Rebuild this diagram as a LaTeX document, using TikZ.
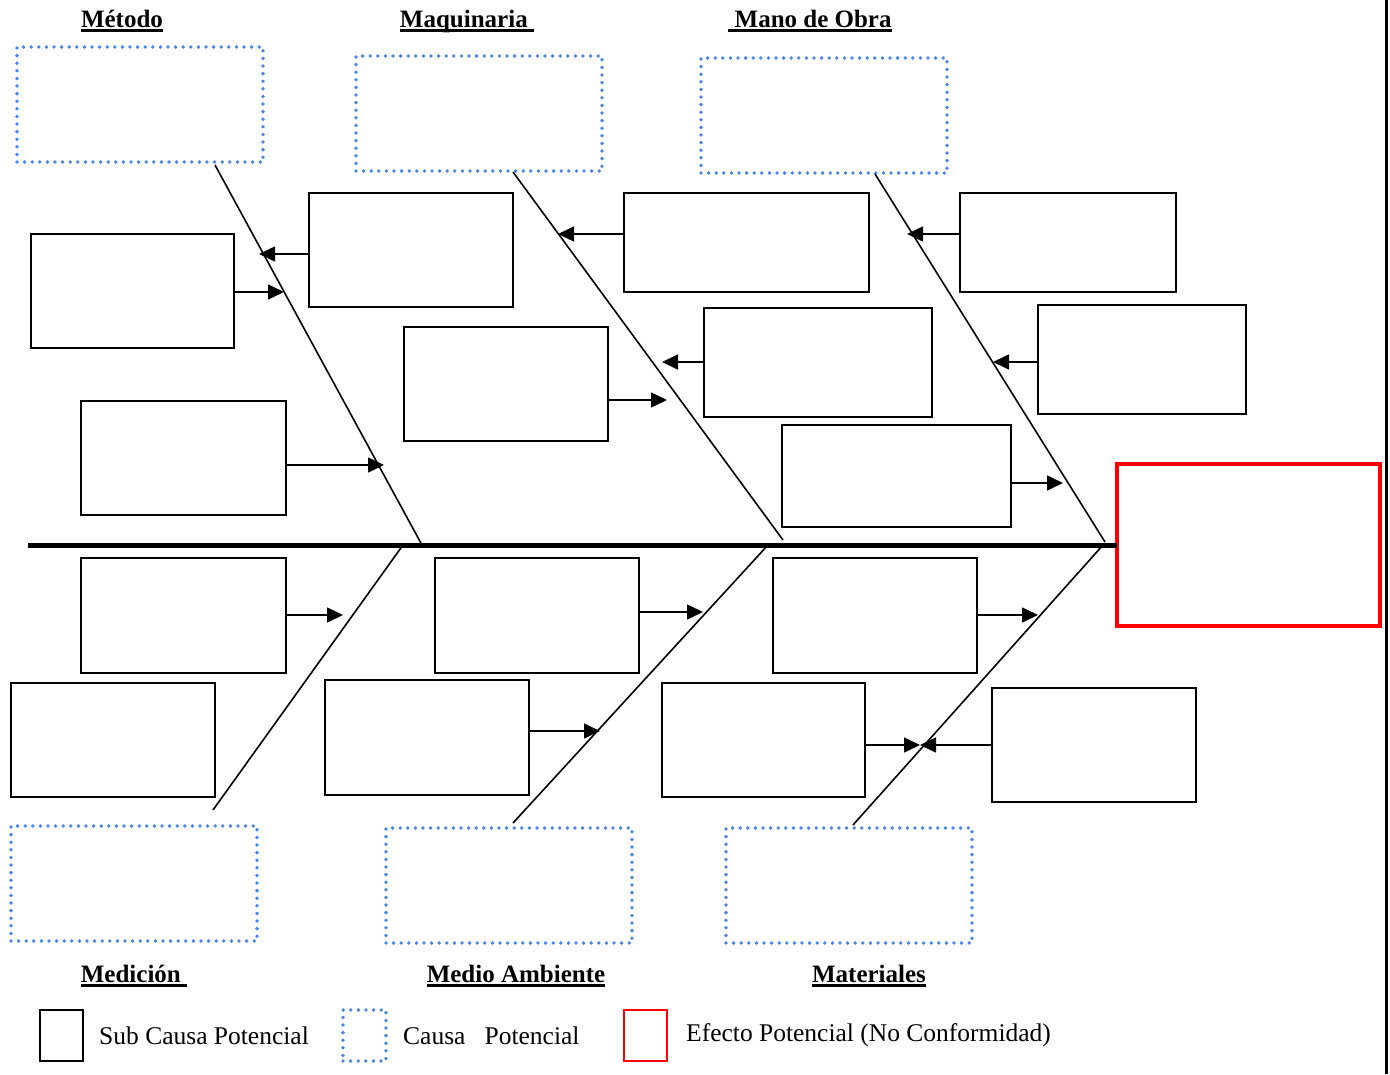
\documentclass[tikz,border=0pt]{standalone}
\usepackage{fontspec}
\setmainfont{Liberation Serif}
\usepackage{xcolor}
\usetikzlibrary{arrows.meta, positioning}

\definecolor{puntos}{RGB}{74,134,232}
\newcommand{\subr}[1]{\setbox0\hbox{#1}\rlap{\rule[-4.5pt]{\wd0}{2.6pt}}\box0}

\tikzset{
  subcausa/.style={draw=black, line width=1.6pt, inner sep=0pt, outer sep=0pt, anchor=north west},
  causa/.style={draw=puntos, line width=3.8pt, line cap=round, dash pattern=on 0pt off 7.6pt, inner sep=0pt, outer sep=0pt, anchor=north west, minimum width=246, minimum height=115},
  efecto/.style={draw=red, line width=4pt, inner sep=0pt, outer sep=0pt, anchor=north west},
  titulo/.style={font=\fontsize{25}{29}\selectfont\bfseries, inner sep=0pt},
  leyenda/.style={font=\fontsize{25.5}{29}\selectfont, inner sep=0pt, anchor=west},
  espina/.style={line width=1.6pt},
  flecha/.style={line width=1.6pt, -{Triangle[length=16pt, width=15pt]}}
}

\begin{document}
\begin{tikzpicture}[x=1pt, y=-1pt]
\useasboundingbox (0,0) rectangle (1390,1074);
\draw[line width=3pt] (1386,0) -- (1386,1074);

% Causas (titulos y cajas punteadas)
\node[titulo] (tmetodo) at (122,21) {\subr{Método}};
\node[titulo] (tmaq) at (467,21) {\subr{Maquinaria\ }};
\node[titulo] (tmano) at (810,21) {\subr{\ Mano de Obra}};
\node[titulo] (tmed) at (134,976) {\subr{Medición\ }};
\node[titulo] (tamb) at (516,976) {\subr{Medio Ambiente}};
\node[titulo] (tmat) at (869,976) {\subr{Materiales}};

\node[causa] (metodo) at (17,47) {};
\node[causa] (maq) at (356,56) {};
\node[causa] (mano) at (701,58) {};
\node[causa] (medicion) at (11,826) {};
\node[causa] (ambiente) at (386,828) {};
\node[causa] (materiales) at (726,828) {};

% Efecto
\node[efecto, minimum width=263, minimum height=162] (efecto) at (1117,464) {};
\draw[line width=5pt] (28,545) -- (efecto.west);

% Espinas
\coordinate (e1) at (215,165);  \coordinate (f1) at (422,545);
\coordinate (e2) at (513,172);  \coordinate (f2) at (783,540);
\coordinate (e3) at (875,174);  \coordinate (f3) at (1105,542);
\coordinate (e4) at (213,810);  \coordinate (f4) at (403,545);
\coordinate (e5) at (513,823);  \coordinate (f5) at (768,545);
\coordinate (e6) at (853,825);  \coordinate (f6) at (1103,545);
\foreach \i in {1,...,6}
  \draw[espina] (e\i) -- (f\i);

% Sub causas arriba
\node[subcausa, minimum width=203, minimum height=114] (sa) at (31,234) {};
\node[subcausa, minimum width=204, minimum height=114] (sb) at (309,193) {};
\node[subcausa, minimum width=205, minimum height=114] (sc) at (81,401) {};
\node[subcausa, minimum width=204, minimum height=114] (sd) at (404,327) {};
\node[subcausa, minimum width=245, minimum height=99] (se) at (624,193) {};
\node[subcausa, minimum width=228, minimum height=109] (sf) at (704,308) {};
\node[subcausa, minimum width=229, minimum height=102] (sg) at (782,425) {};
\node[subcausa, minimum width=216, minimum height=99] (sh) at (960,193) {};
\node[subcausa, minimum width=208, minimum height=109] (si) at (1038,305) {};

% Sub causas abajo
\node[subcausa, minimum width=205, minimum height=115] (sj) at (81,558) {};
\node[subcausa, minimum width=204, minimum height=114] (sk) at (11,683) {};
\node[subcausa, minimum width=204, minimum height=115] (sl) at (435,558) {};
\node[subcausa, minimum width=204, minimum height=115] (sm) at (325,680) {};
\node[subcausa, minimum width=204, minimum height=115] (sn) at (773,558) {};
\node[subcausa, minimum width=203, minimum height=114] (so) at (662,683) {};
\node[subcausa, minimum width=204, minimum height=114] (sp) at (992,688) {};

% Puntas de flecha sobre las espinas
\coordinate (ta) at (284,292);
\coordinate (tb) at (259,254);
\coordinate (tc) at (384,465);
\coordinate (td) at (667,400);
\coordinate (te) at (558,234);
\coordinate (tf) at (662,362);
\coordinate (tg) at (1063,483);
\coordinate (th) at (907,234);
\coordinate (ti) at (993,362);
\coordinate (tj) at (343,615);
\coordinate (tk) at (262,731);
\coordinate (tl) at (703,612);
\coordinate (tm) at (600,731);
\coordinate (tn) at (1038,615);
\coordinate (to) at (920,745);

\foreach \s/\t in {sa/ta, sc/tc, sd/td, sg/tg, sj/tj, sl/tl, sm/tm, sn/tn, so/to}
  \draw[flecha] (\s.east |- \t) -- (\t);
\foreach \s/\t in {sb/tb, se/te, sf/tf, sh/th, si/ti, sp/to}
  \draw[flecha] (\s.west |- \t) -- (\t);

% Leyenda
\node[subcausa, minimum width=43, minimum height=51] (lsub) at (40,1010) {};
\node[leyenda, right=16pt of lsub] (tsub) {Sub Causa Potencial};
\node[causa, minimum width=43, minimum height=51] (lcausa) at (343,1010) {};
\node[leyenda, right=17pt of lcausa] (tcausa) {Causa\ \ \ Potencial};
\node[efecto, line width=1.6pt, minimum width=43, minimum height=51] (lefecto) at (624,1010) {};
\node[leyenda, right=19pt of lefecto] (tefecto) {Efecto Potencial (No Conformidad)};
\end{tikzpicture}
\end{document}
